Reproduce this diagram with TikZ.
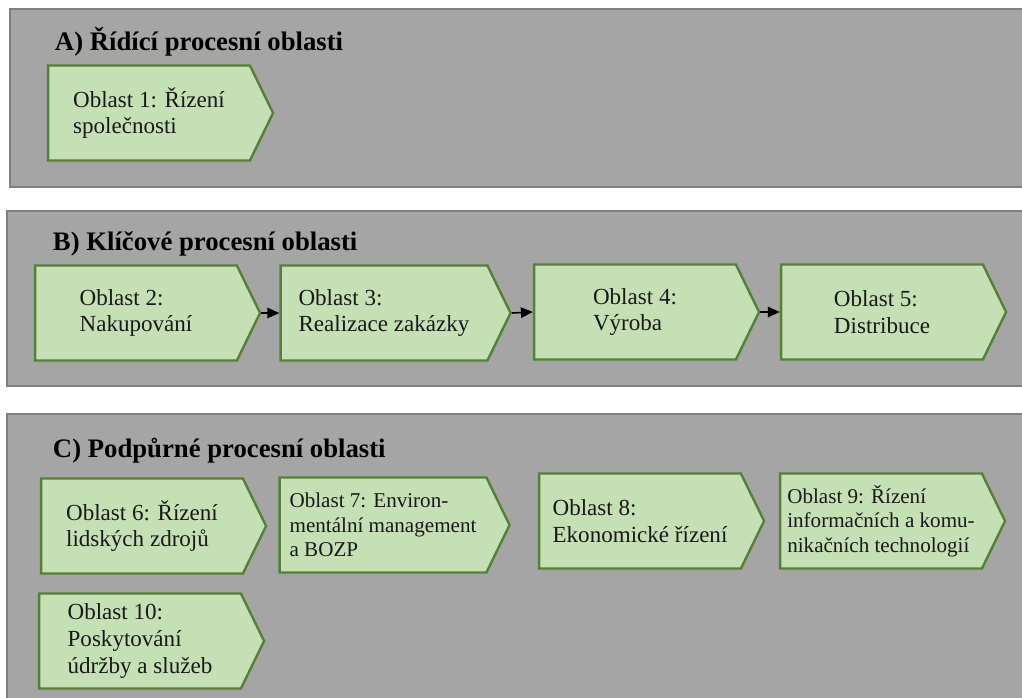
\documentclass[tikz,border=0pt]{standalone}
\usepackage{fontspec}
\setmainfont{Liberation Serif}
\usetikzlibrary{arrows.meta,shapes.symbols}
\definecolor{panelgray}{HTML}{A5A5A5}
\definecolor{panelline}{HTML}{7F7F7F}
\definecolor{boxgreen}{HTML}{C5E0B4}
\definecolor{boxline}{HTML}{548235}
\tikzset{
  panel/.style={fill=panelgray, draw=panelline, line width=0.5mm},
  paneltitle/.style={anchor=base west, font=\bfseries\fontsize{19}{22}\selectfont},
  area/.style={shape=signal, signal to=east, signal pointer angle=128,
    fill=boxgreen, draw=boxline, line width=0.6mm,
    minimum width=56.25mm, minimum height=23.75mm, inner sep=0pt,
    align=left, text=black!90, font=\fontsize{16.4}{19}\selectfont},
  widearea/.style={minimum width=57.5mm},
  smalltext/.style={font=\fontsize{15}{17.5}\selectfont},
  flow/.style={-{Triangle[length=3mm,width=2.6mm]}, line width=0.4mm}
}
\begin{document}
\begin{tikzpicture}[x=0.25mm,y=-0.25mm]
 \useasboundingbox (0,0) rectangle (1022,697);
 \clip (0,0) rectangle (1022,697);
 \fill [white] (0,0) rectangle (1022,697);

 \draw [panel] (10,9) rectangle (1040,187); % 領域A
 \draw [panel] (7,211) rectangle (1040,386); % 領域B
 \draw [panel] (7,414) rectangle (1040,720); % 領域C

 \node [paneltitle] (TA) at (50,50) {A) Řídící procesní oblasti};
 \node [paneltitle] (TB) at (48,250) {B) Klíčové procesní oblasti};
 \node [paneltitle] (TC) at (48,457) {C) Podpůrné procesní oblasti};

 \node [area] (O1) at (149,113) {Oblast 1: Řízení\\společnosti};

 \node [area] (O2) at (136,313) {Oblast 2:\\Nakupování};
 \node [area,widearea] (O3) at (384,313) {Oblast 3:\\Realizace zakázky};
 \node [area] (O4) at (635,312) {Oblast 4:\\Výroba};
 \node [area] (O5) at (882,312) {Oblast 5:\\Distribuce};

 \node [area] (O6) at (142,526) {Oblast 6: Řízení\\lidských zdrojů};
 \node [area,widearea,smalltext] (O7) at (383,525) {Oblast 7: Environ-\\mentální management\\a BOZP};
 \node [area] (O8) at (640,521) {Oblast 8:\\Ekonomické řízení};
 \node [area,smalltext] (O9) at (881,521) {Oblast 9: Řízení\\informačních a komu-\\nikačních technologií};
 \node [area] (O10) at (140,641) {Oblast 10:\\Poskytování\\údržby a služeb};

 \draw [flow] (O2.east) -- (O3.west); % 2→3
 \draw [flow] (O3.east) -- (O4.west); % 3→4
 \draw [flow] (O4.east) -- (O5.west); % 4→5
\end{tikzpicture}
\end{document}
